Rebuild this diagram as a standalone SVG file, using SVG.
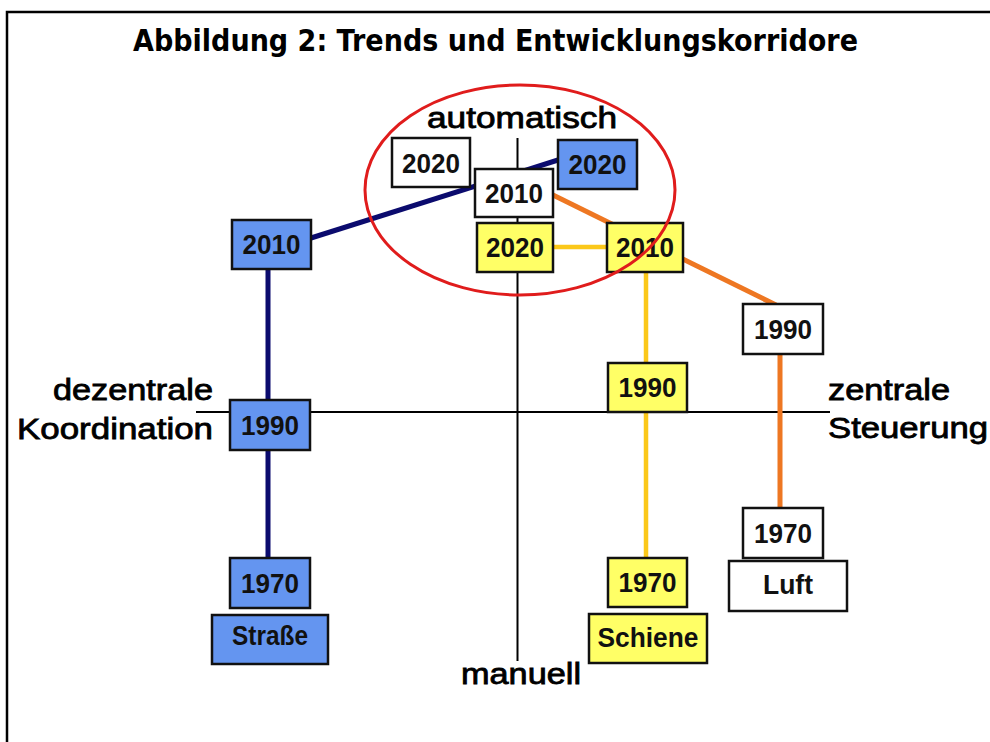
<svg xmlns="http://www.w3.org/2000/svg" width="990" height="742" viewBox="0 0 990 742">
<style>
.frame{fill:none;stroke:#000;stroke-width:2.5}
.axis{stroke:#000;stroke-width:2;fill:none}
.box{stroke:#111;stroke-width:2.5}
.blue{fill:#6495f0}
.white{fill:#fff}
.yellow{fill:#ffff66}
.num{font-family:"Liberation Sans",Arial,sans-serif;font-weight:bold;font-size:28px;fill:#111;text-anchor:middle}
.lbl{font-family:"Liberation Sans",Arial,sans-serif;font-size:29px;fill:#000;stroke:#000;stroke-width:0.8}
.title{font-family:"DejaVu Sans",Verdana,sans-serif;font-weight:bold;font-size:30px;fill:#000}
.navy{stroke:#0b0b6e;stroke-width:5;fill:none}
.orange{stroke:#ee7722;stroke-width:5;fill:none}
.gold{stroke:#fbc81a;stroke-width:4.5;fill:none}
</style>
<rect width="990" height="742" fill="#fff"/>
<path class="frame" d="M7,742 V12 H990"/>
<text class="title" x="133" y="51" textLength="725" lengthAdjust="spacingAndGlyphs">Abbildung 2: Trends und Entwicklungskorridore</text>

<g id="axes">
<line class="axis" x1="517.5" y1="138" x2="517.5" y2="661"/>
<line class="axis" x1="196" y1="412" x2="830" y2="412"/>
<text class="lbl" x="427" y="128" textLength="190" lengthAdjust="spacingAndGlyphs">automatisch</text>
<text class="lbl" x="461" y="684" textLength="120" lengthAdjust="spacingAndGlyphs">manuell</text>
<text class="lbl" x="53" y="400" textLength="160" lengthAdjust="spacingAndGlyphs">dezentrale</text>
<text class="lbl" x="17" y="439" textLength="196" lengthAdjust="spacingAndGlyphs">Koordination</text>
<text class="lbl" x="828" y="400" textLength="122" lengthAdjust="spacingAndGlyphs">zentrale</text>
<text class="lbl" x="828" y="438" textLength="160" lengthAdjust="spacingAndGlyphs">Steuerung</text>
</g>

<g id="connectors">
<line class="navy" x1="268" y1="269" x2="268" y2="558"/>
<line class="navy" x1="311" y1="238" x2="558" y2="160"/>
<line class="orange" x1="553" y1="195" x2="776" y2="305"/>
<line class="orange" x1="780" y1="354" x2="780" y2="508"/>
<line class="gold" x1="553" y1="247" x2="607" y2="247"/>
<line class="gold" x1="646" y1="272" x2="646" y2="558"/>
</g>

<g id="strasse-2010"><rect class="box blue" x="232" y="220" width="79" height="49"/><text class="num" x="271.5" y="254" textLength="58" lengthAdjust="spacingAndGlyphs">2010</text></g>
<g id="strasse-2020"><rect class="box blue" x="558" y="140" width="79" height="49"/><text class="num" x="597.5" y="174" textLength="58" lengthAdjust="spacingAndGlyphs">2020</text></g>
<g id="strasse-1990"><rect class="box blue" x="230" y="400" width="80" height="50"/><text class="num" x="270" y="435" textLength="58" lengthAdjust="spacingAndGlyphs">1990</text></g>
<g id="strasse-1970"><rect class="box blue" x="230" y="558" width="80" height="50"/><text class="num" x="270" y="593" textLength="58" lengthAdjust="spacingAndGlyphs">1970</text></g>
<g id="strasse"><rect class="box blue" x="212" y="615" width="116" height="49"/><text class="num" x="270" y="645" textLength="76" lengthAdjust="spacingAndGlyphs">Straße</text></g>

<g id="luft-2020"><rect class="box white" x="392" y="138" width="78" height="49"/><text class="num" x="431" y="173" textLength="58" lengthAdjust="spacingAndGlyphs">2020</text></g>
<g id="luft-2010"><rect class="box white" x="475" y="169" width="78" height="48"/><text class="num" x="514" y="203" textLength="58" lengthAdjust="spacingAndGlyphs">2010</text></g>
<g id="luft-1990"><rect class="box white" x="743" y="304" width="80" height="50"/><text class="num" x="783" y="339" textLength="58" lengthAdjust="spacingAndGlyphs">1990</text></g>
<g id="luft-1970"><rect class="box white" x="743" y="508" width="80" height="50"/><text class="num" x="783" y="543" textLength="58" lengthAdjust="spacingAndGlyphs">1970</text></g>
<g id="luft"><rect class="box white" x="729" y="561" width="118" height="50"/><text class="num" x="788" y="594" textLength="50" lengthAdjust="spacingAndGlyphs">Luft</text></g>

<g id="schiene-2020"><rect class="box yellow" x="477" y="223" width="76" height="49"/><text class="num" x="515" y="257" textLength="58" lengthAdjust="spacingAndGlyphs">2020</text></g>
<g id="schiene-2010"><rect class="box yellow" x="607" y="223" width="76" height="49"/><text class="num" x="645" y="257" textLength="58" lengthAdjust="spacingAndGlyphs">2010</text></g>
<g id="schiene-1990"><rect class="box yellow" x="608" y="363" width="79" height="49"/><text class="num" x="647.5" y="397" textLength="58" lengthAdjust="spacingAndGlyphs">1990</text></g>
<g id="schiene-1970"><rect class="box yellow" x="608" y="558" width="79" height="49"/><text class="num" x="647.5" y="592" textLength="58" lengthAdjust="spacingAndGlyphs">1970</text></g>
<g id="schiene"><rect class="box yellow" x="589" y="614" width="118" height="49"/><text class="num" x="648" y="647" textLength="101" lengthAdjust="spacingAndGlyphs">Schiene</text></g>

<g id="corridor-ellipse"><ellipse cx="520" cy="190" rx="155" ry="105" fill="none" stroke="#e01c1c" stroke-width="3"/></g>
</svg>
